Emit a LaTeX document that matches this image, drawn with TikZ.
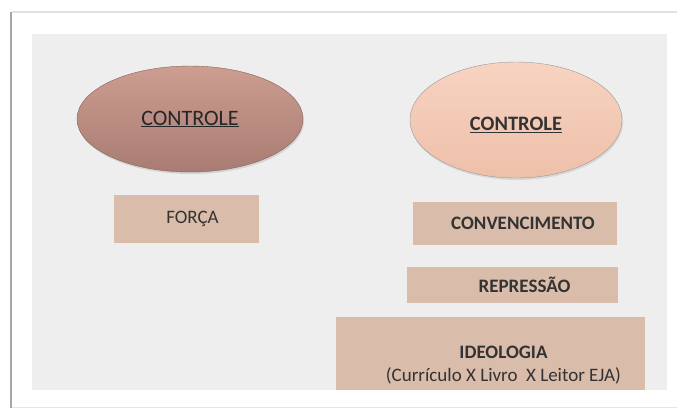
\documentclass[tikz,border=0pt]{standalone}
\usepackage{fontspec}
\setmainfont{Carlito}
\usepackage{tikz}
\usetikzlibrary{shapes.geometric,shadows}
\definecolor{panelgray}{HTML}{EEEEEE}
\definecolor{boxtan}{HTML}{D9BCAA}
\definecolor{roseA}{HTML}{CC9D90}
\definecolor{roseB}{HTML}{A97C73}
\definecolor{peachA}{HTML}{F7D3C1}
\definecolor{peachB}{HTML}{EEC0AA}
\tikzset{
  ellA/.style={ ellipse, draw=roseB!80!black, top color=roseA, bottom color=roseB, minimum width=226pt, minimum height=106pt, drop shadow={opacity=0.25, shadow xshift=1pt, shadow yshift=-2pt}, text=black!85, font=\fontsize{22}{26}\selectfont }
}
\tikzset{
  ellB/.style={ ellipse, draw=black!40, top color=peachA, bottom color=peachB, minimum width=212pt, minimum height=116pt, drop shadow={opacity=0.2, shadow xshift=1pt, shadow yshift=-2pt} }
}
\tikzset{
  boxA/.style={ rectangle, fill=boxtan, inner sep=0pt }
}
\tikzset{
  boxtxt/.style={ text=black!80, font=\fontsize{19}{23}\selectfont\bfseries, align=center }
}

\begin{document}
\begin{tikzpicture}[x=1pt, y=-1pt]
      \useasboundingbox (0,0) rectangle (677,408);
      \draw[line width=2pt, black!12] (12,12) -- (677,12);
      \draw[line width=1pt, black!10] (12,407) -- (677,407);
      \draw[line width=2.5pt, black!35] (11,12) -- (11,408);
      \fill[panelgray] (32,34) rectangle (667,390);
      \node[ellA] (ctrlA) at (190,119) {\underline{CONTROLE}};
      \node[ellB, label={[boxtxt, font=\fontsize{20.5}{24}\selectfont\bfseries, yshift=-5pt]center:\underline{CONTROLE}}] (ctrlB) at (516,120) {};
      \node[boxA, minimum width=145pt, minimum height=48pt, label={[boxtxt, font=\fontsize{19}{23}\selectfont, xshift=6pt]center:FORÇA}] (forca) at (186.5,219) {};
      \node[boxA, minimum width=204pt, minimum height=43pt, label={[boxtxt, xshift=8pt]center:CONVENCIMENTO}] (conv) at (515,223.5) {};
      \node[boxA, minimum width=211pt, minimum height=36pt, label={[boxtxt, xshift=12pt]center:REPRESSÃO}] (repr) at (512.5,285) {};
      \node[boxA, minimum width=309pt, minimum height=73pt, label={[boxtxt, xshift=13pt, yshift=-12pt]center:{IDEOLOGIA\\\mdseries (Currículo X Livro\ \ X Leitor EJA)}}] (ideo) at (490.5,353.5) {};
    \end{tikzpicture}
\end{document}
